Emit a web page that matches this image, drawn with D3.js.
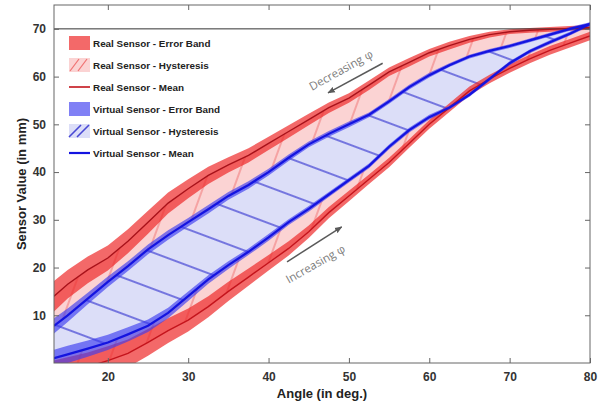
<!DOCTYPE html>
<html>
<head>
<meta charset="utf-8">
<script src="https://cdn.jsdelivr.net/npm/d3@7"></script>
<style>
  body { margin: 0; background: #fff; }
</style>
</head>
<body>
<div id="chart"></div>
<script>
// angle samples (deg.)
const angles = [13.3, 15, 17.5, 20, 22.5, 25, 27.5, 30, 32.5, 35, 37.5, 40, 42.5, 45, 47.5, 50, 52.5, 55, 57.5, 60, 62.5, 65, 67.5, 70, 72.5, 75, 77.5, 80];

// real sensor, decreasing / increasing phi (mean, mm)
const realUpper = [14, 16.5, 19.5, 22, 25.5, 29.5, 33.5, 36.5, 39.3, 41.5, 43.5, 46, 48.5, 51, 53.5, 55.5, 58.2, 61, 63, 65, 66.5, 67.8, 68.8, 69.4, 69.7, 69.9, 70.1, 70.3];
const realLower = [-2.5, -1.8, -0.8, 0.5, 2, 4.3, 6.8, 9, 11.8, 15, 18, 21, 24, 27.5, 31.5, 35, 38.5, 42, 46, 50, 53.5, 57, 59.5, 61.7, 63.7, 65.5, 67, 68.5];
const realUpperErr = [3.2, 3, 2.8, 2.6, 2.5, 2.4, 2.2, 2, 1.8, 1.6, 1.5, 1.4, 1.3, 1.2, 1.1, 1, 1, 0.9, 0.9, 0.8, 0.8, 0.7, 0.6, 0.5, 0.5, 0.5, 0.5, 0.5];
const realLowerErr = [3, 3, 3, 3, 2.9, 2.8, 2.6, 2.4, 2.2, 2, 1.8, 1.6, 1.5, 1.3, 1.2, 1.1, 1, 1, 0.9, 0.9, 0.9, 0.9, 0.9, 0.9, 0.9, 0.9, 0.9, 0.9];

// virtual sensor
const virtUpper = [7.8, 10, 13.5, 17, 20.3, 23.8, 26.8, 29.5, 32.2, 35, 37.3, 40, 43, 45.8, 48, 50, 52, 54.8, 57.8, 60.3, 62.4, 64.2, 65.4, 66.4, 67.6, 68.8, 70, 71];
const virtLower = [1, 1.8, 3, 4.3, 6, 7.8, 10.5, 14, 17.5, 20.5, 23.3, 26.3, 29.5, 32.3, 35.3, 38.3, 41.3, 45.3, 48.8, 51.5, 53.5, 56.2, 59.5, 62.8, 65.3, 67.2, 69, 71];
const virtUpperErr = [1.6, 1.4, 1.2, 1.1, 1, 1, 1, 0.9, 0.9, 0.8, 0.8, 0.7, 0.7, 0.6, 0.6, 0.6, 0.5, 0.5, 0.5, 0.5, 0.4, 0.4, 0.4, 0.4, 0.4, 0.4, 0.4, 0.4];
const virtLowerErr = [1.8, 1.8, 1.7, 1.6, 1.5, 1.3, 1.1, 1, 0.9, 0.8, 0.7, 0.7, 0.6, 0.6, 0.5, 0.5, 0.5, 0.5, 0.5, 0.5, 0.4, 0.4, 0.4, 0.4, 0.4, 0.4, 0.4, 0.4];

const xTicks = [20, 30, 40, 50, 60, 70, 80];
const yTicks = [10, 20, 30, 40, 50, 60, 70];
const legendLabels = ["Real Sensor - Error Band", "Real Sensor - Hysteresis", "Real Sensor - Mean",
    "Virtual Sensor - Error Band", "Virtual Sensor - Hysteresis", "Virtual Sensor - Mean"];

const width = 600;
const height = 403;
const margin = {top: 5, right: 10, bottom: 40, left: 54};

const svg = d3.select("#chart").append("svg").attr("width", width).attr("height", height);

const x = d3.scaleLinear().domain([13.3, 80]).range([margin.left, width - margin.right]);
const y = d3.scaleLinear().domain([0, 75]).range([height - margin.bottom, margin.top]);

const pts = angles.map((a, i) => ({
    a,
    ru: realUpper[i], rl: realLower[i], rue: realUpperErr[i], rle: realLowerErr[i],
    vu: virtUpper[i], vl: virtLower[i], vue: virtUpperErr[i], vle: virtLowerErr[i]
}));

const defs = svg.append("defs");
defs.append("clipPath").attr("id", "plot-clip")
    .append("rect")
    .attr("x", margin.left).attr("y", margin.top)
    .attr("width", width - margin.left - margin.right)
    .attr("height", height - margin.top - margin.bottom);

// hatch patterns
const redHatch = defs.append("pattern").attr("id", "hatch-red")
    .attr("patternUnits", "userSpaceOnUse")
    .attr("width", 10).attr("height", 29)
    .attr("patternTransform", "rotate(-70)");
redHatch.append("line").attr("x1", -1).attr("x2", 11).attr("y1", 23).attr("y2", 23)
    .attr("stroke", "#f07272").attr("stroke-width", 1);

const blueHatch = defs.append("pattern").attr("id", "hatch-blue")
    .attr("patternUnits", "userSpaceOnUse")
    .attr("width", 10).attr("height", 34)
    .attr("patternTransform", "rotate(20.5)");
blueHatch.append("line").attr("x1", -1).attr("x2", 11).attr("y1", 13).attr("y2", 13)
    .attr("stroke", "#4848d4").attr("stroke-width", 1.4);

const plot = svg.append("g").attr("clip-path", "url(#plot-clip)");

const area = (lo, hi) => d3.area().x(d => x(d.a)).y0(d => y(lo(d))).y1(d => y(hi(d)));
const line = (f) => d3.line().x(d => x(d.a)).y(d => y(f(d)));

// hysteresis regions
plot.append("path").datum(pts)
    .attr("d", area(d => d.rl, d => d.ru))
    .attr("fill", "#fbd3d3");
plot.append("path").datum(pts)
    .attr("d", area(d => d.rl, d => d.ru))
    .attr("fill", "url(#hatch-red)");
plot.append("path").datum(pts)
    .attr("d", area(d => d.vl, d => d.vu))
    .attr("fill", "#dcdef8");
plot.append("path").datum(pts)
    .attr("d", area(d => d.vl, d => d.vu))
    .attr("fill", "url(#hatch-blue)");

// error bands
const redBand = "#ee2a2a";
const blueBand = "#3c3cf0";
plot.append("path").datum(pts)
    .attr("d", area(d => d.ru - d.rue, d => d.ru + d.rue))
    .attr("fill", redBand).attr("fill-opacity", 0.7);
plot.append("path").datum(pts)
    .attr("d", area(d => d.rl - d.rle, d => d.rl + d.rle))
    .attr("fill", redBand).attr("fill-opacity", 0.7);
plot.append("path").datum(pts)
    .attr("d", area(d => d.vu - d.vue, d => d.vu + d.vue))
    .attr("fill", blueBand).attr("fill-opacity", 0.65);
plot.append("path").datum(pts)
    .attr("d", area(d => d.vl - d.vle, d => d.vl + d.vle))
    .attr("fill", blueBand).attr("fill-opacity", 0.65);

// reference line at 70
plot.append("line")
    .attr("x1", x.range()[0]).attr("x2", x.range()[1])
    .attr("y1", y(70)).attr("y2", y(70))
    .attr("stroke", "#333").attr("stroke-width", 1);

// mean lines
plot.append("path").datum(pts).attr("d", line(d => d.ru))
    .attr("fill", "none").attr("stroke", "#a8121a").attr("stroke-width", 1.4);
plot.append("path").datum(pts).attr("d", line(d => d.rl))
    .attr("fill", "none").attr("stroke", "#c4141c").attr("stroke-width", 1.4);
plot.append("path").datum(pts).attr("d", line(d => d.vu))
    .attr("fill", "none").attr("stroke", "#1414e0").attr("stroke-width", 2.2);
plot.append("path").datum(pts).attr("d", line(d => d.vl))
    .attr("fill", "none").attr("stroke", "#1414e0").attr("stroke-width", 2.2);

// axes, ticks pointing inward on all four sides
const axisColor = "#666";
const labelFont = "'Liberation Sans', Arial, sans-serif";

function styleAxis(g) {
    g.select(".domain").remove();
    g.selectAll(".tick line").attr("stroke", axisColor);
    g.selectAll(".tick text").attr("fill", "#333").attr("font-size", 12)
        .attr("font-weight", "bold").attr("font-family", labelFont);
}

svg.append("g").attr("transform", `translate(0,${y.range()[0]})`)
    .call(d3.axisBottom(x).tickValues(xTicks).tickSize(-5).tickPadding(9))
    .call(styleAxis);
svg.append("g").attr("transform", `translate(0,${y.range()[1]})`)
    .call(d3.axisTop(x).tickValues(xTicks).tickSize(-5).tickFormat(""))
    .call(styleAxis);
svg.append("g").attr("transform", `translate(${x.range()[0]},0)`)
    .call(d3.axisLeft(y).tickValues(yTicks).tickSize(-5).tickPadding(8))
    .call(styleAxis);
svg.append("g").attr("transform", `translate(${x.range()[1]},0)`)
    .call(d3.axisRight(y).tickValues(yTicks).tickSize(-5).tickFormat(""))
    .call(styleAxis);

svg.append("rect")
    .attr("x", x.range()[0]).attr("y", y.range()[1])
    .attr("width", x.range()[1] - x.range()[0])
    .attr("height", y.range()[0] - y.range()[1])
    .attr("fill", "none").attr("stroke", axisColor).attr("stroke-width", 1);

// axis titles
svg.append("text")
    .attr("x", (x.range()[0] + x.range()[1]) / 2).attr("y", 398)
    .attr("text-anchor", "middle")
    .attr("font-family", labelFont).attr("font-weight", "bold").attr("font-size", 13)
    .attr("fill", "#222")
    .text("Angle (in deg.)");
svg.append("text")
    .attr("transform", `translate(26,${(y.range()[0] + y.range()[1]) / 2}) rotate(-90)`)
    .attr("text-anchor", "middle")
    .attr("font-family", labelFont).attr("font-weight", "bold").attr("font-size", 13)
    .attr("fill", "#222")
    .text("Sensor Value (in mm)");

// direction annotations
function annotate(tail, head, textPos, label, rot) {
    const id = "arrow-" + label.split(" ")[0];
    defs.append("marker").attr("id", id)
        .attr("viewBox", "0 0 10 10").attr("refX", 9).attr("refY", 5)
        .attr("markerWidth", 5).attr("markerHeight", 5).attr("orient", "auto")
        .append("path").attr("d", "M0,1L10,5L0,9Z").attr("fill", "#5a5a5a");
    svg.append("line")
        .attr("x1", x(tail[0])).attr("y1", y(tail[1]))
        .attr("x2", x(head[0])).attr("y2", y(head[1]))
        .attr("stroke", "#5a5a5a").attr("stroke-width", 1.5)
        .attr("marker-end", `url(#${id})`);
    svg.append("text")
        .attr("transform", `translate(${x(textPos[0])},${y(textPos[1])}) rotate(${rot})`)
        .attr("font-family", "'Open Sans', sans-serif").attr("font-size", 11.5)
        .attr("fill", "#7c7c7c")
        .text(label);
}
annotate([54.2, 62.8], [47.4, 56.6], [45.4, 57.0], "Decreasing φ", -29);
annotate([42.3, 21.2], [49.1, 28.5], [42.5, 16.6], "Increasing φ", -29.5);

// legend
const legend = svg.append("g").attr("transform", "translate(69,43)");
const rowH = 22;
legendLabels.forEach((label, i) => {
    const row = legend.append("g").attr("transform", `translate(0,${i * rowH})`);
    const sw = 21, sh = 14;
    if (i === 0 || i === 3) {
        row.append("rect").attr("x", 0).attr("y", -sh / 2).attr("width", sw).attr("height", sh)
            .attr("fill", i === 0 ? redBand : blueBand).attr("fill-opacity", i === 0 ? 0.7 : 0.65);
    } else if (i === 1 || i === 4) {
        row.append("rect").attr("x", 0).attr("y", -sh / 2).attr("width", sw).attr("height", sh)
            .attr("fill", i === 1 ? "#fbd3d3" : "#dcdef8");
        const stroke = i === 1 ? "#f07272" : "#4848d4";
        const offs = i === 1 ? [4, 12] : [3, 11];
        offs.forEach(o => {
            row.append("line")
                .attr("x1", o - 3).attr("y1", 6)
                .attr("x2", o + (i === 1 ? 6 : 9)).attr("y2", -6)
                .attr("stroke", stroke).attr("stroke-width", i === 1 ? 1.2 : 1.6);
        });
    } else {
        row.append("line").attr("x1", 0).attr("x2", sw).attr("y1", 0).attr("y2", 0)
            .attr("stroke", i === 2 ? "#c4141c" : "#1414e0").attr("stroke-width", i === 2 ? 1.6 : 2.2);
    }
    row.append("text").attr("x", 24).attr("y", 3.5)
        .attr("font-family", labelFont).attr("font-weight", "bold").attr("font-size", 9.9)
        .attr("fill", "#222")
        .text(label);
});
</script>
</body>
</html>
